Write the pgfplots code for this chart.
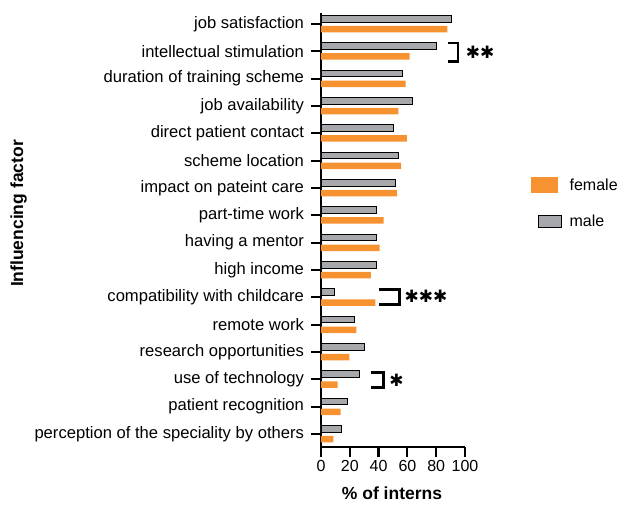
\documentclass[border=0pt]{standalone}
\usepackage{pgfplots}
\pgfplotsset{compat=1.18}
\usepackage{pgfplotstable}
\usepackage{fontspec}
\setmainfont{Liberation Sans}
\newfontfamily\symfont{DejaVu Sans}

\definecolor{femaleorange}{RGB}{246,146,48}
\definecolor{malegray}{RGB}{166,168,171}

% position (bottom = 0), male %, female %
\pgfplotstableread{
pos male female
0  14.4  8.6
1  18.3  13.7
2  26.6  11.6
3  30.5  19.7
4  23.4  24.5
5  9.3   37.7
6  38.4  34.7
7  38.4  40.7
8  38.4  43.5
9  51.6  52.8
10 53.5  55.6
11 50.5  59.7
12 63.4  53.7
13 56.5  58.8
14 80.5  61.6
15 90.7  87.7
}\interns

\newcommand{\stars}[1]{{\symfont\bfseries #1}}

\begin{document}
\begin{tikzpicture}
\path[use as bounding box] (-321pt,-57.3pt) rectangle (299pt,446.7pt);
\begin{axis}[
  scale only axis,
  width=144pt, height=433.7pt,
  xmin=0, xmax=100,
  ymin=-0.465, ymax=15.40,
  xbar, bar width=6.5pt,
  axis x line*=bottom, axis y line*=left,
  axis line style={line width=2.2pt, -},
  xtick={0,20,...,100},
  ytick={0,...,15},
  yticklabels={perception of the speciality by others, patient recognition,
    use of technology, research opportunities, remote work,
    compatibility with childcare, high income, having a mentor,
    part-time work, impact on pateint care, scheme location,
    direct patient contact, job availability, duration of training scheme,
    intellectual stimulation, job satisfaction},
  tick align=outside,
  major tick length=10pt,
  tick style={line width=2.2pt, black},
  /pgf/number format/assume math mode=true,
  xticklabel style={font=\fontsize{16}{19}\selectfont},
  yticklabel style={font=\fontsize{16.6}{19}\selectfont, xshift=-3.5pt},
  xlabel={\% of interns},
  ylabel={Influencing factor},
  xlabel style={font=\fontsize{17.5}{20}\selectfont\bfseries,
    at={(axis description cs:0.493,-0.1068)}, anchor=center},
  ylabel style={font=\fontsize{17.5}{20}\selectfont\bfseries,
    at={(axis description cs:-2.10,0.5375)}, anchor=center},
  legend style={at={(axis description cs:1.4375,0.628)}, anchor=north west,
    draw=none, fill=none, font=\fontsize{16}{19}\selectfont,
    row sep=19pt, column sep=6pt, cells={anchor=west}},
  clip=false,
]
\addplot[fill=femaleorange, draw=none, bar shift=-5.2pt,
  legend image code/.code={\fill[femaleorange] (-3pt,-7.6pt) rectangle (24pt,7.6pt);}]
  table[x=female, y=pos] {\interns};
\addlegendentry{female}
\addplot[fill=malegray, draw=black, line width=0.9pt, bar shift=5.2pt,
  legend image code/.code={\draw[fill=malegray, draw=black, line width=0.9pt] (4pt,-6pt) rectangle (27pt,6pt);}]
  table[x=male, y=pos] {\interns};
\addlegendentry{male}

% significance brackets
\addplot[black, line width=2.4pt, forget plot, draw=black, fill=none, mark=none, sharp plot]
  coordinates {(88,14.31) (95,14.31) (95,13.63) (88,13.63)};
\addplot[black, line width=2.4pt, forget plot, draw=black, fill=none, mark=none, sharp plot]
  coordinates {(40,5.29) (54.5,5.29) (54.5,4.74) (40,4.74)};
\addplot[black, line width=2.4pt, forget plot, draw=black, fill=none, mark=none, sharp plot]
  coordinates {(34.5,2.25) (43.5,2.25) (43.5,1.70) (34.5,1.70)};
\node[anchor=west, font=\fontsize{17}{20}\selectfont, inner sep=0pt] at (axis cs:100.5,13.97) {\stars{✱✱}};
\node[anchor=west, font=\fontsize{17}{20}\selectfont, inner sep=0pt] at (axis cs:58,5.02) {\stars{✱✱✱}};
\node[anchor=west, font=\fontsize{17}{20}\selectfont, inner sep=0pt] at (axis cs:47.3,1.98) {\stars{✱}};
\end{axis}
\end{tikzpicture}
\end{document}
